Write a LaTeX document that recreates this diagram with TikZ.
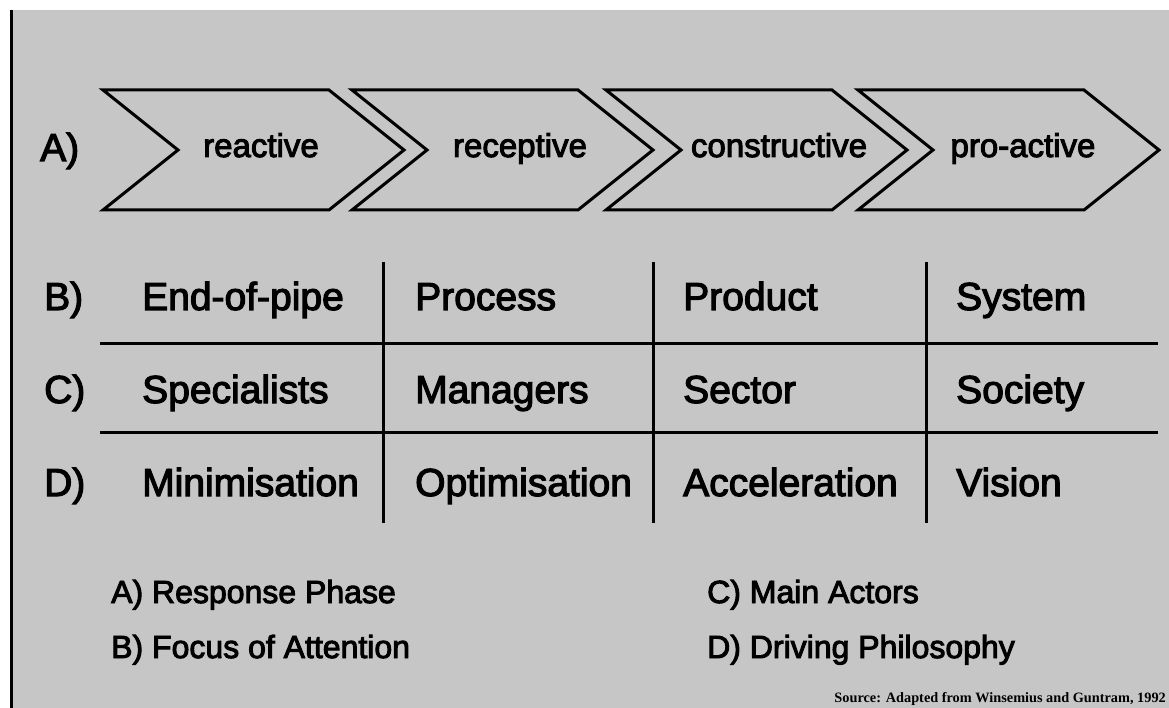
\documentclass[tikz,border=0pt]{standalone}
\usepackage{fontspec}
\setmainfont{Liberation Sans}
\newfontfamily\heavysans[FakeBold=3]{Liberation Sans}
\newfontfamily\srcfont{Liberation Serif}
\definecolor{bg}{RGB}{198,198,198}
\begin{document}
\begin{tikzpicture}[x=1pt,y=-1pt,
  chev/.style={draw=black, line width=3pt, line join=miter},
  chevtext/.style={font=\heavysans\fontsize{33}{36}\selectfont, inner sep=0pt, anchor=base},
  cell/.style={font=\heavysans\fontsize{39}{42}\selectfont, inner sep=0pt, anchor=base west},
  gridline/.style={line width=3pt},
  legend/.style={font=\heavysans\fontsize{32}{34}\selectfont, inner sep=0pt, anchor=base west},
  source/.style={font=\srcfont\bfseries\fontsize{14.3}{16}\selectfont, inner sep=0pt, anchor=base east}]
\useasboundingbox (0,0) rectangle (1169,708);
\fill[white] (0,0) rectangle (1169,708);
\fill[bg] (10,10) rectangle (1169,708);
\coordinate (bt) at (11.5,10);
\coordinate (bb) at (11.5,708);
\draw[line width=3pt] (bt) -- (bb);

% chevrons
\foreach \i/\x in {1/103,2/352,3/606,4/858}{
  \draw[chev] (\x,90) -- ++(226,0) -- ++(75,60) -- ++(-75,60) -- ++(-226,0) -- ++(75,-60) -- cycle;
}
\node[cell] (la) at (40,161) {A)};
\node[chevtext] (c1) at (261,157) {reactive};
\node[chevtext] (c2) at (520,157) {receptive};
\node[chevtext] (c3) at (779,157) {constructive};
\node[chevtext] (c4) at (1023,157) {pro-active};

% table lines
\coordinate (v1t) at (383,262); \coordinate (v1b) at (383,523);
\coordinate (v2t) at (653,262); \coordinate (v2b) at (653,523);
\coordinate (v3t) at (926,262); \coordinate (v3b) at (926,523);
\coordinate (h1l) at (100,343); \coordinate (h1r) at (1158,343);
\coordinate (h2l) at (100,432); \coordinate (h2r) at (1158,432);
\draw[gridline] (v1t) -- (v1b);
\draw[gridline] (v2t) -- (v2b);
\draw[gridline] (v3t) -- (v3b);
\draw[gridline] (h1l) -- (h1r);
\draw[gridline] (h2l) -- (h2r);

% row labels
\node[cell] (lb) at (44,310) {B)};
\node[cell] (lc) at (44,403) {C)};
\node[cell] (ld) at (44,496) {D)};

% cells
\node[cell] (b1) at (142,310) {End-of-pipe};
\node[cell] (b2) at (415,310) {Process};
\node[cell] (b3) at (683,310) {Product};
\node[cell] (b4) at (956,310) {System};
\node[cell] (c1t) at (142,403) {Specialists};
\node[cell] (c2t) at (415,403) {Managers};
\node[cell] (c3t) at (683,403) {Sector};
\node[cell] (c4t) at (956,403) {Society};
\node[cell] (d1) at (142,496) {Minimisation};
\node[cell] (d2) at (415,496) {Optimisation};
\node[cell] (d3) at (683,496) {Acceleration};
\node[cell] (d4) at (956,496) {Vision};

% legend
\node[legend] (ga) at (111,603) {A) Response Phase};
\node[legend] (gb) at (111,658) {B) Focus of Attention};
\node[legend] (gc) at (707,603) {C) Main Actors};
\node[legend] (gd) at (707,658) {D) Driving Philosophy};

\node[source] (src) at (1166,702) {Source: Adapted from Winsemius and Guntram, 1992};
\end{tikzpicture}
\end{document}
